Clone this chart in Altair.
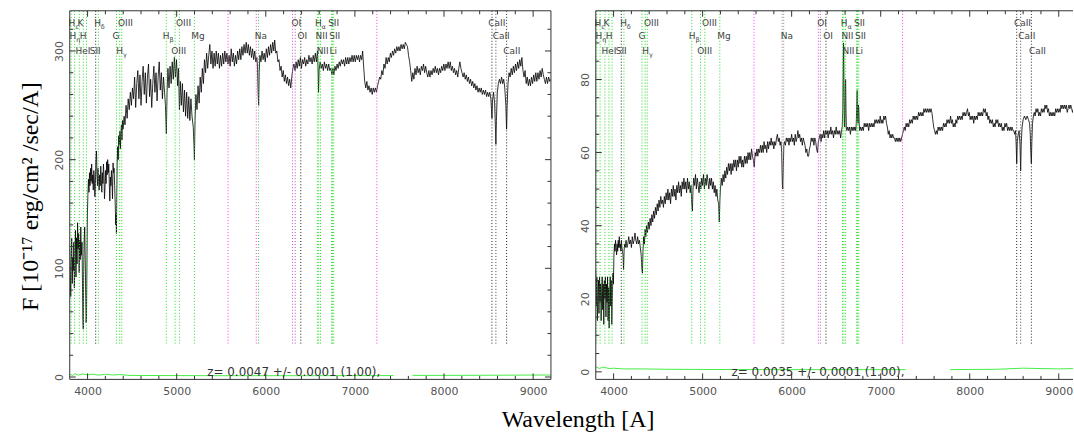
import altair as alt
import pandas as pd

# ---------------- data ----------------
LEFT_Z = 0.0047
RIGHT_Z = 0.0035
LEFT_ZTEXT = "z= 0.0047 +/- 0.0001 (1.00),"
RIGHT_ZTEXT = "z= 0.0035 +/- 0.0001 (1.00),"
LEFT_ZTEXT_WAVE = 6313
RIGHT_ZTEXT_WAVE = 6296

LEFT_X_RANGE = [3800, 9200]
RIGHT_X_RANGE = [3800, 9160]          # reference picture is cropped on the right
LEFT_Y_RANGE = [-2.2, 337.0]
RIGHT_Y_RANGE = [-2.07, 98.8]

X_MAJOR = [4000, 5000, 6000, 7000, 8000, 9000]
X_MINOR = [3800, 4200, 4400, 4600, 4800, 5200, 5400, 5600, 5800, 6200, 6400, 6600, 6800,
           7200, 7400, 7600, 7800, 8200, 8400, 8600, 8800, 9200]
LEFT_Y_MAJOR = [0, 100, 200, 300]
LEFT_Y_MINOR = [20, 40, 60, 80, 120, 140, 160, 180, 220, 240, 260, 280, 320]
RIGHT_Y_MAJOR = [0, 20, 40, 60, 80]
RIGHT_Y_MINOR = [5, 10, 15, 25, 30, 35, 45, 50, 55, 65, 70, 75, 85, 90, 95]

Y_TITLE = "F  [10\u207b\u00b9\u2077 erg/cm\u00b2 /sec/A]"
X_TITLE = "Wavelength [A]"

# spectral line markers: rest wavelength and colour (redshifted per panel)
LINE_REST = [3798, 3835, 3889, 3934, 3969, 4072, 4102, 4304, 4340, 4363, 4861, 4959, 5007,
             5175, 5890, 6300, 6363, 6548, 6563, 6583, 6707, 6716, 6731, 8498, 8542, 8662]
LINE_COLOR = ["#22dd22", "#22dd22", "#22dd22", "#22dd22", "#22dd22", "#222222", "#22dd22",
              "#22dd22", "#22dd22", "#22dd22", "#22dd22", "#22dd22", "#22dd22", "#22dd22",
              "#22dd22", "#777777", "#222222", "#22dd22", "#22dd22", "#22dd22", "#22dd22",
              "#22dd22", "#22dd22", "#222222", "#444444", "#222222"]
SKY_LINES = [5577, 5893, 6300, 7246]
SKY_COLOR = "#ff33ff"

# line labels: text, subscript, anchor wavelength (left edge), row
LABEL_TEXT = ["H", "K", "H", "OIII", "OIII", "OI", "H", "SII", "CaII",
              "H", "H", "G", "H", "Mg", "Na", "OI", "NII", "SII", "CaII",
              "HeI", "SII", "H", "OIII", "NII", "Li", "CaII"]
LABEL_SUB = ["\u03b5", "", "\u03b4", "", "", "", "\u03b1", "", "",
             "\u03b7", "", "", "\u03b2", "", "", "", "", "", "",
             "", "", "\u03b3", "", "", "", ""]
LABEL_WAVE = [3787, 3888, 4074, 4342, 4993, 6288, 6552, 6700, 8497,
              3798, 3912, 4279, 4845, 5164, 5877, 6355, 6559, 6712, 8546,
              3865, 4024, 4323, 4939, 6571, 6716, 8665]
LABEL_ROW = [1, 1, 1, 1, 1, 1, 1, 1, 1,
             2, 2, 2, 2, 2, 2, 2, 2, 2, 2,
             3, 3, 3, 3, 3, 3, 3]

LEFT_SPEC = [
    (3800, 118), (3806, 96), (3811, 74), (3816, 104), (3822, 128), (3828, 86), (3834, 110),
    (3840, 98), (3846, 124), (3852, 82), (3858, 112), (3864, 135), (3870, 92), (3876, 128),
    (3882, 104), (3888, 142), (3894, 118), (3900, 132), (3906, 96), (3912, 126), (3918, 108),
    (3924, 138), (3930, 112), (3938, 124), (3944, 78), (3948, 52), (3952, 44), (3956, 98),
    (3962, 126), (3968, 138), (3974, 108), (3980, 72), (3984, 50), (3988, 56), (3994, 112),
    (3998, 150), (4004, 168), (4010, 182), (4016, 170), (4022, 188), (4028, 176), (4034, 192),
    (4040, 180), (4046, 196), (4052, 178), (4058, 186), (4064, 172), (4070, 190), (4076, 182),
    (4082, 166), (4088, 178), (4094, 200), (4100, 208), (4106, 186), (4112, 176), (4118, 192),
    (4124, 180), (4130, 172), (4136, 186), (4142, 176), (4148, 194), (4154, 182), (4160, 170),
    (4166, 188), (4172, 178), (4178, 196), (4184, 186), (4190, 164), (4196, 174), (4202, 190),
    (4208, 178), (4214, 198), (4220, 186), (4226, 200), (4232, 188), (4238, 196), (4244, 178),
    (4250, 162), (4256, 184), (4262, 176), (4268, 190), (4274, 180), (4280, 164), (4286, 197),
    (4292, 188), (4298, 192), (4304, 176), (4310, 160), (4316, 140), (4320, 150), (4324, 132),
    (4328, 170), (4332, 196), (4338, 212), (4344, 200), (4350, 222), (4356, 214), (4362, 226),
    (4368, 210), (4374, 224), (4380, 232), (4386, 218), (4392, 236), (4398, 228), (4410, 240),
    (4420, 232), (4432, 250), (4444, 238), (4456, 256), (4468, 246), (4480, 262), (4492, 250),
    (4504, 266), (4516, 256), (4528, 276), (4540, 248), (4552, 270), (4564, 282), (4576, 256),
    (4588, 278), (4600, 250), (4612, 272), (4624, 286), (4636, 260), (4648, 280), (4660, 252),
    (4672, 276), (4684, 288), (4696, 258), (4708, 274), (4720, 248), (4732, 270), (4744, 286),
    (4756, 262), (4768, 280), (4780, 254), (4792, 276), (4804, 290), (4816, 264), (4828, 280),
    (4840, 256), (4852, 276), (4864, 262), (4874, 250), (4884, 224), (4892, 262), (4902, 284),
    (4914, 266), (4926, 286), (4938, 270), (4950, 290), (4962, 274), (4974, 294), (4986, 276),
    (4998, 292), (5010, 268), (5020, 284), (5031, 246), (5040, 272), (5052, 250), (5064, 270),
    (5076, 244), (5088, 264), (5100, 240), (5112, 262), (5124, 238), (5136, 258), (5148, 236),
    (5160, 256), (5172, 240), (5186, 230), (5194, 214), (5199, 200), (5206, 236), (5216, 260),
    (5228, 246), (5240, 268), (5252, 252), (5264, 276), (5276, 262), (5288, 284), (5300, 270),
    (5312, 292), (5324, 280), (5336, 298), (5348, 284), (5360, 296), (5372, 306), (5384, 288),
    (5396, 300), (5408, 284), (5420, 298), (5432, 286), (5444, 300), (5456, 288), (5468, 298),
    (5480, 284), (5492, 296), (5504, 286), (5516, 298), (5528, 288), (5540, 300), (5552, 290),
    (5564, 298), (5576, 288), (5588, 296), (5600, 286), (5612, 302), (5624, 290), (5636, 298),
    (5648, 286), (5660, 296), (5672, 288), (5684, 300), (5696, 292), (5708, 302), (5720, 292),
    (5732, 304), (5744, 296), (5756, 306), (5768, 298), (5780, 308), (5792, 298), (5804, 306),
    (5816, 296), (5828, 304), (5840, 294), (5852, 302), (5864, 292), (5876, 300), (5888, 290),
    (5900, 294), (5908, 284), (5914, 262), (5920, 250), (5926, 280), (5934, 296), (5946, 290),
    (5958, 300), (5970, 292), (5982, 298), (5994, 290), (6006, 302), (6018, 294), (6030, 304),
    (6042, 296), (6054, 306), (6066, 298), (6078, 308), (6090, 300), (6100, 310), (6112, 298),
    (6124, 300), (6136, 290), (6148, 292), (6160, 282), (6172, 286), (6184, 276), (6196, 282),
    (6208, 272), (6220, 278), (6232, 270), (6244, 276), (6256, 268), (6268, 274), (6280, 266),
    (6292, 276), (6304, 284), (6316, 288), (6328, 282), (6340, 290), (6352, 284), (6364, 292),
    (6376, 286), (6388, 294), (6400, 284), (6412, 292), (6424, 288), (6436, 294), (6448, 286),
    (6460, 292), (6472, 288), (6484, 296), (6496, 290), (6508, 294), (6520, 288), (6532, 296),
    (6544, 290), (6556, 298), (6568, 290), (6580, 300), (6588, 280), (6592, 262), (6598, 282),
    (6610, 290), (6622, 284), (6634, 288), (6646, 282), (6658, 290), (6670, 284), (6682, 288),
    (6694, 282), (6706, 288), (6718, 282), (6730, 284), (6742, 278), (6754, 284), (6764, 278),
    (6776, 286), (6788, 282), (6800, 288), (6812, 284), (6824, 290), (6836, 286), (6848, 292),
    (6860, 288), (6872, 292), (6884, 286), (6896, 294), (6908, 288), (6920, 294), (6932, 288),
    (6944, 294), (6956, 290), (6968, 296), (6980, 290), (6992, 296), (7004, 290), (7016, 296),
    (7028, 292), (7040, 296), (7052, 290), (7064, 296), (7076, 292), (7087, 300), (7098, 286),
    (7110, 272), (7122, 266), (7134, 272), (7146, 264), (7158, 268), (7170, 262), (7182, 266),
    (7194, 260), (7206, 266), (7218, 262), (7230, 266), (7242, 262), (7254, 268), (7266, 272),
    (7278, 276), (7290, 274), (7302, 282), (7314, 278), (7326, 288), (7338, 284), (7350, 294),
    (7362, 288), (7374, 294), (7386, 290), (7398, 298), (7410, 294), (7422, 300), (7434, 296),
    (7446, 302), (7458, 298), (7470, 304), (7482, 300), (7494, 304), (7506, 300), (7518, 306),
    (7530, 302), (7542, 306), (7554, 302), (7566, 308), (7578, 306), (7590, 304), (7602, 296),
    (7614, 290), (7626, 282), (7638, 272), (7650, 280), (7662, 274), (7674, 284), (7686, 278),
    (7698, 286), (7710, 280), (7722, 284), (7734, 278), (7746, 286), (7758, 282), (7770, 288),
    (7782, 280), (7794, 286), (7806, 280), (7818, 276), (7830, 282), (7842, 276), (7854, 282),
    (7866, 278), (7878, 284), (7890, 280), (7902, 286), (7914, 280), (7926, 284), (7938, 278),
    (7950, 284), (7962, 280), (7974, 286), (7986, 282), (7998, 288), (8010, 282), (8022, 288),
    (8034, 284), (8046, 290), (8058, 284), (8070, 290), (8082, 282), (8094, 286), (8106, 280),
    (8118, 284), (8130, 278), (8142, 282), (8154, 276), (8166, 284), (8178, 290), (8190, 284),
    (8202, 280), (8214, 276), (8226, 280), (8238, 274), (8250, 278), (8262, 272), (8274, 276),
    (8286, 270), (8298, 274), (8310, 268), (8322, 272), (8334, 266), (8346, 270), (8358, 264),
    (8370, 268), (8382, 262), (8394, 266), (8406, 262), (8418, 266), (8430, 260), (8442, 264),
    (8454, 260), (8466, 264), (8478, 258), (8490, 262), (8502, 258), (8514, 262), (8526, 256),
    (8533, 246), (8538, 238), (8544, 254), (8556, 262), (8568, 252), (8576, 232), (8582, 214),
    (8588, 236), (8598, 262), (8610, 270), (8622, 274), (8634, 270), (8646, 276), (8658, 270),
    (8670, 274), (8682, 266), (8694, 250), (8702, 228), (8708, 248), (8718, 270), (8730, 280),
    (8742, 276), (8754, 284), (8766, 278), (8778, 286), (8790, 280), (8802, 288), (8814, 282),
    (8826, 290), (8838, 284), (8850, 292), (8862, 286), (8874, 294), (8886, 282), (8898, 276),
    (8910, 282), (8922, 270), (8934, 276), (8946, 268), (8958, 274), (8970, 268), (8982, 276),
    (8994, 270), (9006, 278), (9018, 272), (9030, 280), (9042, 272), (9054, 280), (9066, 274),
    (9078, 282), (9090, 276), (9102, 284), (9114, 278), (9126, 274), (9138, 270), (9150, 276),
    (9162, 270), (9174, 276), (9186, 272), (9200, 274),
]

RIGHT_SPEC = [
    (3800, 28), (3806, 18), (3812, 26), (3818, 14), (3824, 22), (3830, 25), (3836, 16),
    (3842, 26), (3848, 19), (3854, 24), (3860, 14), (3866, 22), (3872, 26), (3878, 17),
    (3884, 24), (3890, 13), (3896, 25), (3902, 20), (3908, 26), (3914, 15), (3920, 24),
    (3926, 19), (3932, 26), (3938, 14), (3944, 23), (3950, 12), (3956, 22), (3962, 26),
    (3968, 18), (3974, 25), (3980, 13), (3986, 20), (3992, 27), (3998, 24), (4004, 32),
    (4010, 35), (4016, 33), (4022, 36), (4028, 34), (4034, 32), (4040, 35), (4046, 33),
    (4052, 36), (4058, 34), (4064, 37), (4070, 34), (4076, 35), (4082, 33), (4088, 36),
    (4094, 34), (4100, 33), (4106, 32), (4112, 28), (4118, 33), (4124, 35), (4130, 34),
    (4140, 36), (4150, 34), (4160, 35), (4170, 37), (4180, 35), (4190, 36), (4200, 34),
    (4210, 37), (4220, 35), (4230, 36), (4240, 38), (4250, 36), (4260, 35), (4270, 37),
    (4280, 35), (4290, 36), (4300, 34), (4310, 32), (4318, 28), (4324, 27), (4330, 33),
    (4338, 37), (4346, 35), (4354, 39), (4362, 37), (4370, 40), (4380, 38), (4390, 41),
    (4400, 39), (4410, 42), (4420, 40), (4430, 43), (4440, 41), (4450, 44), (4460, 42),
    (4470, 45), (4480, 43), (4490, 46), (4500, 44), (4510, 47), (4520, 45), (4530, 48),
    (4540, 46), (4550, 47), (4560, 45), (4570, 48), (4580, 46), (4590, 49), (4600, 47),
    (4610, 50), (4620, 47), (4630, 49), (4640, 46), (4650, 50), (4660, 48), (4670, 51),
    (4680, 48), (4690, 50), (4700, 47), (4710, 51), (4720, 49), (4730, 52), (4740, 49),
    (4750, 51), (4760, 48), (4770, 52), (4780, 50), (4790, 53), (4800, 50), (4810, 52),
    (4820, 49), (4830, 53), (4840, 50), (4850, 52), (4860, 49), (4870, 51), (4878, 46),
    (4885, 44), (4892, 50), (4900, 53), (4910, 51), (4920, 54), (4930, 50), (4940, 53),
    (4950, 51), (4960, 49), (4970, 52), (4980, 50), (4990, 53), (5000, 51), (5010, 54),
    (5020, 50), (5030, 53), (5040, 51), (5050, 54), (5060, 52), (5070, 50), (5080, 53),
    (5090, 51), (5100, 53), (5110, 50), (5120, 52), (5130, 49), (5140, 51), (5150, 48),
    (5160, 50), (5170, 47), (5180, 46), (5187, 41), (5194, 47), (5200, 50), (5210, 53),
    (5220, 51), (5230, 54), (5240, 52), (5250, 55), (5260, 53), (5270, 56), (5280, 54),
    (5290, 57), (5300, 55), (5310, 57), (5320, 54), (5330, 57), (5340, 55), (5350, 58),
    (5360, 56), (5370, 58), (5380, 55), (5390, 58), (5400, 56), (5410, 59), (5420, 57),
    (5430, 59), (5440, 56), (5450, 58), (5460, 56), (5470, 59), (5480, 57), (5490, 59),
    (5500, 57), (5510, 60), (5520, 58), (5530, 60), (5540, 58), (5550, 61), (5560, 59),
    (5570, 58), (5580, 56), (5590, 60), (5600, 59), (5610, 61), (5620, 59), (5630, 61),
    (5640, 60), (5650, 62), (5660, 60), (5670, 62), (5680, 60), (5690, 63), (5700, 61),
    (5710, 62), (5720, 60), (5730, 63), (5740, 61), (5750, 63), (5760, 62), (5770, 64),
    (5780, 62), (5790, 63), (5800, 61), (5810, 63), (5820, 62), (5830, 64), (5840, 65),
    (5850, 63), (5860, 64), (5870, 62), (5880, 63), (5888, 60), (5895, 52), (5900, 50),
    (5906, 56), (5912, 62), (5920, 63), (5930, 62), (5940, 64), (5950, 63), (5960, 64),
    (5970, 62), (5980, 64), (5990, 63), (6000, 65), (6010, 63), (6020, 64), (6030, 62),
    (6040, 65), (6050, 63), (6060, 64), (6070, 66), (6080, 64), (6090, 65), (6100, 63),
    (6110, 64), (6120, 62), (6130, 64), (6140, 63), (6150, 62), (6160, 60), (6170, 61),
    (6180, 59), (6190, 59), (6200, 61), (6210, 62), (6220, 64), (6230, 63), (6240, 64),
    (6250, 62), (6260, 64), (6270, 63), (6280, 61), (6290, 60), (6300, 63), (6310, 64),
    (6320, 65), (6330, 63), (6340, 65), (6350, 64), (6360, 66), (6370, 64), (6380, 66),
    (6390, 65), (6400, 66), (6410, 64), (6420, 66), (6430, 65), (6440, 67), (6450, 65),
    (6460, 66), (6470, 64), (6480, 66), (6490, 65), (6500, 67), (6510, 65), (6520, 66),
    (6530, 65), (6540, 66), (6550, 64), (6560, 66), (6568, 67), (6574, 72), (6578, 80),
    (6582, 90), (6585, 88), (6588, 75), (6592, 68), (6596, 67), (6600, 70), (6603, 78),
    (6606, 80), (6610, 72), (6614, 67), (6620, 66), (6630, 67), (6640, 66), (6650, 67),
    (6660, 65), (6670, 67), (6680, 66), (6690, 67), (6700, 66), (6710, 67), (6720, 66),
    (6726, 68), (6732, 74), (6736, 77), (6740, 70), (6745, 68), (6750, 73), (6754, 72),
    (6758, 68), (6765, 66), (6775, 67), (6785, 66), (6795, 67), (6805, 66), (6815, 68),
    (6825, 67), (6835, 68), (6845, 67), (6855, 68), (6865, 66), (6875, 68), (6885, 67),
    (6895, 68), (6905, 67), (6915, 68), (6925, 67), (6935, 69), (6945, 68), (6955, 69),
    (6965, 68), (6975, 69), (6985, 68), (6995, 70), (7005, 68), (7015, 69), (7025, 68),
    (7035, 70), (7045, 69), (7055, 70), (7065, 68), (7075, 67), (7085, 65), (7095, 66),
    (7105, 64), (7115, 65), (7125, 64), (7135, 65), (7145, 64), (7155, 64), (7165, 63),
    (7175, 64), (7185, 63), (7195, 64), (7205, 63), (7215, 64), (7225, 63), (7235, 64),
    (7245, 65), (7255, 66), (7265, 67), (7275, 66), (7285, 68), (7295, 67), (7305, 68),
    (7315, 67), (7325, 69), (7335, 68), (7345, 69), (7355, 68), (7365, 70), (7375, 69),
    (7385, 70), (7395, 69), (7405, 70), (7415, 69), (7425, 71), (7435, 70), (7445, 71),
    (7455, 70), (7465, 71), (7475, 70), (7485, 72), (7495, 71), (7505, 72), (7515, 71),
    (7525, 72), (7535, 71), (7545, 72), (7555, 71), (7565, 72), (7575, 71), (7585, 69),
    (7595, 67), (7605, 66), (7615, 65), (7625, 66), (7635, 65), (7645, 67), (7655, 66),
    (7665, 67), (7675, 66), (7685, 67), (7695, 66), (7705, 68), (7715, 67), (7725, 68),
    (7735, 67), (7745, 69), (7755, 68), (7765, 69), (7775, 68), (7785, 70), (7795, 68),
    (7805, 69), (7815, 67), (7825, 68), (7835, 67), (7845, 69), (7855, 68), (7865, 70),
    (7875, 69), (7885, 70), (7895, 69), (7905, 70), (7915, 69), (7925, 71), (7935, 70),
    (7945, 71), (7955, 70), (7965, 71), (7975, 72), (7985, 70), (7995, 71), (8005, 69),
    (8015, 70), (8025, 69), (8035, 70), (8045, 68), (8055, 70), (8065, 69), (8075, 70),
    (8085, 69), (8095, 71), (8105, 70), (8115, 71), (8125, 70), (8135, 71), (8145, 70),
    (8155, 72), (8165, 71), (8175, 72), (8185, 70), (8195, 71), (8205, 69), (8215, 70),
    (8225, 68), (8235, 69), (8245, 68), (8255, 69), (8265, 67), (8275, 68), (8285, 67),
    (8295, 69), (8305, 68), (8315, 69), (8325, 67), (8335, 68), (8345, 67), (8355, 68),
    (8365, 66), (8375, 67), (8385, 66), (8395, 68), (8405, 67), (8415, 68), (8425, 66),
    (8435, 67), (8445, 66), (8455, 67), (8465, 66), (8475, 67), (8485, 66), (8495, 66),
    (8505, 65), (8515, 66), (8522, 62), (8528, 57), (8534, 63), (8545, 65), (8555, 66),
    (8565, 62), (8572, 55), (8578, 62), (8588, 67), (8600, 69), (8615, 70), (8630, 69),
    (8645, 70), (8660, 69), (8672, 68), (8680, 65), (8686, 60), (8692, 57), (8698, 63),
    (8705, 68), (8715, 70), (8725, 71), (8735, 70), (8745, 72), (8755, 71), (8765, 72),
    (8775, 70), (8785, 71), (8795, 70), (8805, 72), (8815, 71), (8825, 72), (8835, 71),
    (8845, 73), (8855, 72), (8865, 73), (8875, 71), (8885, 72), (8895, 70), (8905, 71),
    (8915, 70), (8925, 71), (8935, 70), (8945, 71), (8955, 70), (8965, 72), (8975, 71),
    (8985, 72), (8995, 71), (9005, 72), (9015, 71), (9025, 73), (9035, 72), (9045, 73),
    (9055, 72), (9065, 73), (9075, 72), (9085, 73), (9095, 71), (9105, 72), (9115, 73),
    (9125, 72), (9135, 73), (9145, 72), (9155, 71), (9165, 72), (9175, 73), (9185, 72),
    (9200, 73),
]

# error spectra (segment id, wavelength, flux)
LEFT_ERR = [
    (0, 3800, 2.6), (0, 3830, 1.4), (0, 3860, 3.0), (0, 3900, 1.8), (0, 3950, 2.8),
    (0, 4000, 2.0), (0, 4060, 2.6), (0, 4120, 1.7), (0, 4200, 2.5), (0, 4280, 1.9),
    (0, 4360, 2.3), (0, 4450, 1.5), (0, 4600, 1.4), (0, 5000, 1.3), (0, 5500, 1.2),
    (0, 6000, 1.2), (0, 6500, 1.2), (0, 7000, 1.3), (0, 7434, 1.3),
    (1, 7647, 1.5), (1, 8000, 1.5), (1, 8500, 1.6), (1, 9000, 1.8), (1, 9200, 1.8),
]
RIGHT_ERR = [
    (0, 3800, 1.4), (0, 3840, 0.9), (0, 3880, 1.3), (0, 3950, 0.9), (0, 4000, 1.0),
    (0, 4100, 0.8), (0, 4300, 0.8), (0, 4600, 0.7), (0, 5000, 0.65), (0, 6000, 0.6),
    (0, 7000, 0.6), (0, 7280, 0.6),
    (1, 7780, 0.6), (1, 8300, 0.7), (1, 8600, 1.0), (1, 9000, 0.8), (1, 9200, 0.9),
]

# ---------------- layout constants ----------------
PLOT_H = 370
LEFT_W = 483
RIGHT_W = 479
INK = "#333333"
TICK_FONT = "DejaVu Sans"


def panel(spec, err, z, xr, yr, ymaj, ymin_ticks, ztext, zwave, width, right_edge, with_title):
    x0, x1 = xr
    y0, y1 = yr
    ppx = width / (x1 - x0)
    ppy = PLOT_H / (y1 - y0)
    xs = alt.Scale(domain=xr, nice=False, zero=False)
    ys = alt.Scale(domain=yr, nice=False, zero=False)

    yaxis_kw = dict(values=ymaj, labelAngle=270, ticks=False, tickSize=0, domain=False,
                    grid=False, labelPadding=5, labelFont=TICK_FONT, labelFontSize=11,
                    labelColor="#555555", format="d")
    if with_title:
        yaxis_kw.update(titleX=-39, titleY=186, titleAngle=270, titleAlign="center",
                        titleBaseline="middle", titleFont="Liberation Serif",
                        titleFontSize=24, titleFontWeight="normal", titleColor="#000000")
    yaxis = alt.Axis(**yaxis_kw)
    xaxis = alt.Axis(values=X_MAJOR, ticks=False, tickSize=0, domain=False, grid=False,
                     labelPadding=6, labelFont=TICK_FONT, labelFontSize=11,
                     labelColor="#555555", format="d", labelFlush=False)
    ytitle = Y_TITLE if with_title else None

    def X(f):
        return alt.X(f, scale=xs, axis=xaxis, title=None)

    def Y(f):
        return alt.Y(f, scale=ys, axis=yaxis, title=ytitle)

    sdf = pd.DataFrame(spec, columns=["wave", "flux"])
    spec_line = alt.Chart(sdf).mark_line(color="#000000", strokeWidth=0.8, clip=True).encode(
        x=X("wave:Q"), y=Y("flux:Q"))

    edf = pd.DataFrame(err, columns=["seg", "wave", "flux"])
    err_line = alt.Chart(edf).mark_line(color="#44ee44", strokeWidth=1, clip=True).encode(
        x=X("wave:Q"), y=Y("flux:Q"), detail="seg:N")

    lo = y0 + 0.097 * (y1 - y0)
    obs = [w * (1 + z) for w in LINE_REST] + SKY_LINES
    cols = LINE_COLOR + [SKY_COLOR] * len(SKY_LINES)
    ldf = pd.DataFrame({"obs": obs, "col": cols, "lo": lo, "hi": y1})
    ldf = ldf[(ldf.obs > x0) & (ldf.obs < x1)]
    markers = alt.Chart(ldf).mark_rule(strokeDash=[1, 2], strokeWidth=1).encode(
        x=X("obs:Q"), y=Y("lo:Q"), y2="hi:Q", color=alt.Color("col:N", scale=None))

    row_frac = {1: 0.0335, 2: 0.0695, 3: 0.110}
    tdf = pd.DataFrame({
        "wave": LABEL_WAVE,
        "txt": LABEL_TEXT,
        "sub": LABEL_SUB,
        "yy": [y1 - row_frac[r] * (y1 - y0) for r in LABEL_ROW],
    })
    labels = alt.Chart(tdf).mark_text(align="left", baseline="middle", font=TICK_FONT,
                                      fontSize=9, color="#444444").encode(
        x=X("wave:Q"), y=Y("yy:Q"), text="txt:N")
    subs = alt.Chart(tdf[tdf["sub"] != ""]).mark_text(
        align="left", baseline="middle", font=TICK_FONT, fontSize=6.5, color="#444444",
        dx=6.6, dy=4).encode(x=X("wave:Q"), y=Y("yy:Q"), text="sub:N")

    zdf = pd.DataFrame({"wave": [zwave], "yy": [y0 + 0.02 * (y1 - y0)], "txt": [ztext]})
    ztxt = alt.Chart(zdf).mark_text(align="center", baseline="middle", font=TICK_FONT,
                                    fontSize=12, color="#333333").encode(
        x=X("wave:Q"), y=Y("yy:Q"), text="txt:N")

    # inward ticks drawn as short rules (lengths in pixels converted to data units)
    vt = []
    for v in X_MAJOR:
        vt.append((v, y0, y0 + 6 / ppy))
        vt.append((v, y1 - 6 / ppy, y1))
    for v in X_MINOR:
        if x0 < v < x1:
            vt.append((v, y0, y0 + 3.5 / ppy))
            vt.append((v, y1 - 3.5 / ppy, y1))
    vdf = pd.DataFrame(vt, columns=["x", "a", "b"])
    vticks = alt.Chart(vdf).mark_rule(color=INK, strokeWidth=1).encode(
        x=X("x:Q"), y=Y("a:Q"), y2="b:Q")
    ht = []
    for v in ymaj:
        ht.append((v, x0, x0 + 6 / ppx))
        if right_edge:
            ht.append((v, x1 - 6 / ppx, x1))
    for v in ymin_ticks:
        ht.append((v, x0, x0 + 3.5 / ppx))
        if right_edge:
            ht.append((v, x1 - 3.5 / ppx, x1))
    hdf = pd.DataFrame(ht, columns=["y", "a", "b"])
    hticks = alt.Chart(hdf).mark_rule(color=INK, strokeWidth=1).encode(
        y=Y("y:Q"), x=X("a:Q"), x2="b:Q")

    # frame
    fv = [(x0, y0, y1)] + ([(x1, y0, y1)] if right_edge else [])
    fvdf = pd.DataFrame(fv, columns=["x", "a", "b"])
    frame_v = alt.Chart(fvdf).mark_rule(color=INK, strokeWidth=1).encode(
        x=X("x:Q"), y=Y("a:Q"), y2="b:Q")
    fhdf = pd.DataFrame([(y0, x0, x1), (y1, x0, x1)], columns=["y", "a", "b"])
    frame_h = alt.Chart(fhdf).mark_rule(color=INK, strokeWidth=1).encode(
        y=Y("y:Q"), x=X("a:Q"), x2="b:Q")

    return alt.layer(spec_line, markers, err_line, labels, subs, ztxt, vticks, hticks,
                     frame_v, frame_h).properties(width=width, height=PLOT_H)


left = panel(LEFT_SPEC, LEFT_ERR, LEFT_Z, LEFT_X_RANGE, LEFT_Y_RANGE, LEFT_Y_MAJOR,
             LEFT_Y_MINOR, LEFT_ZTEXT, LEFT_ZTEXT_WAVE, LEFT_W, True, True)
right = panel(RIGHT_SPEC, RIGHT_ERR, RIGHT_Z, RIGHT_X_RANGE, RIGHT_Y_RANGE, RIGHT_Y_MAJOR,
              RIGHT_Y_MINOR, RIGHT_ZTEXT, RIGHT_ZTEXT_WAVE, RIGHT_W, False, False)

chart = alt.hconcat(left, right, spacing=28).properties(
    title=alt.TitleParams(text=X_TITLE, orient="bottom", anchor="middle",
                          font="Liberation Serif", fontSize=24, fontWeight="normal",
                          color="#000000", offset=12, dx=32),
    padding={"left": 18, "top": 9, "right": 0, "bottom": 0},
    background="white",
).configure_view(strokeWidth=0)

chart.save("out.html", embed_options={"renderer": "svg", "actions": False})
